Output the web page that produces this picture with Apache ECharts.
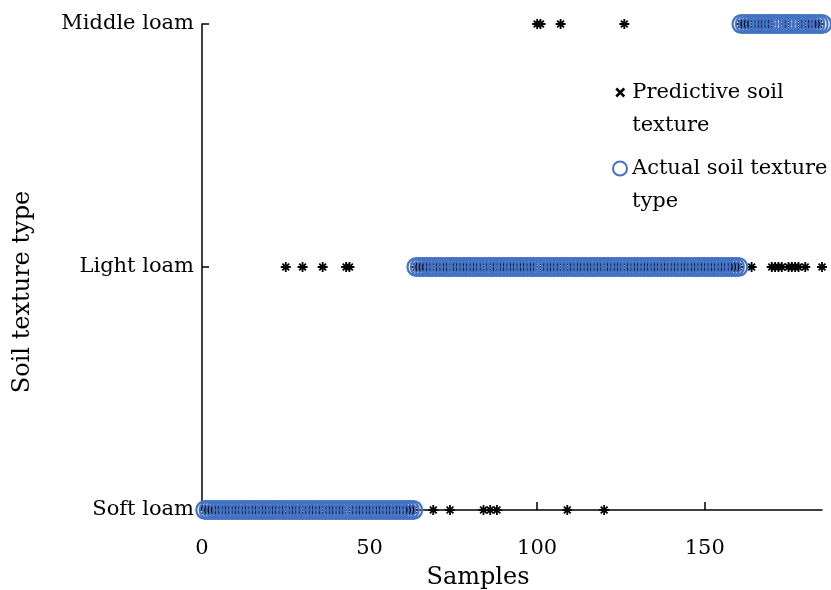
<!DOCTYPE html>
<html>
<head>
<meta charset="utf-8">
<script src="https://cdn.jsdelivr.net/npm/echarts@6/dist/echarts.min.js"></script>
<style>
  html, body { margin: 0; padding: 0; background: #fff; }
  #chart { width: 831px; height: 590px; }
</style>
</head>
<body>
<div id="chart"></div>
<script>
const classNames = ['', 'Soft loam', 'Light loam', 'Middle loam']
const xTicks = [0, 50, 100, 150]

// runs of samples in the actual data: [firstSample, lastSample, class]
const actualRuns = [
  [1, 63, 1],
  [64, 160, 2],
  [161, 185, 3]
]

// samples where the prediction differs from the actual class: [sample, predictedClass]
const predictedErrors = [
  [25, 2], [30, 2], [36, 2], [43, 2], [44, 2],
  [69, 1], [74, 1], [84, 1], [86, 1], [88, 1], [109, 1], [120, 1],
  [100, 3], [101, 3], [107, 3], [126, 3],
  [164, 2], [170, 2], [171, 2], [172, 2], [173, 2], [175, 2], [176, 2],
  [177, 2], [178, 2], [180, 2], [185, 2]
]

const actual = []
actualRuns.forEach(([a, b, c]) => {
  for (let s = a; s <= b; s++) actual.push([s, c])
})
const errMap = new Map(predictedErrors)
const predicted = actual.map(([s, c]) => [s, errMap.has(s) ? errMap.get(s) : c])

const FONT = 'DejaVu Serif'
const STAR = 'path://M0,5L10,5M5,0L5,10M1.6,1.6L8.4,8.4M8.4,1.6L1.6,8.4'
const CROSS = 'path://M0,0L10,10M10,0L0,10'
const BLUE = '#4472c4'

const legendText = { fontFamily: FONT, fontSize: 21, color: '#000', lineHeight: 33 }
const legendBase = {
  orient: 'vertical',
  left: 612,
  padding: 0,
  itemWidth: 14,
  itemHeight: 14,
  itemGap: 0,
  textStyle: legendText
}

const chart = echarts.init(document.getElementById('chart'))
chart.setOption({
  animation: false,
  textStyle: { fontFamily: FONT },
  grid: { left: 202, right: 9, top: 24, bottom: 80, outerBoundsMode: 'none', containLabel: false },
  legend: [
    Object.assign({}, legendBase, {
      top: 43,
      data: [{
        name: 'Predictive soil texture',
        icon: CROSS,
        itemStyle: { color: 'rgba(0,0,0,0)', borderColor: '#000', borderWidth: 2.5 }
      }],
      itemWidth: 8,
      itemHeight: 8,
      itemGap: 0,
      left: 615,
      formatter: () => ' \nPredictive soil\ntexture',
      textStyle: Object.assign({}, legendText, { padding: [0, 0, 0, 3] })
    }),
    Object.assign({}, legendBase, {
      top: 119,
      data: [{
        name: 'Actual soil texture type',
        icon: 'circle',
        itemStyle: { color: 'rgba(0,0,0,0)', borderColor: BLUE, borderWidth: 2 }
      }],
      formatter: () => ' \nActual soil texture\ntype'
    })
  ],
  xAxis: {
    type: 'value',
    min: 0,
    max: 185,
    interval: 50,
    name: 'Samples',
    nameLocation: 'middle',
    nameGap: 56,
    nameTextStyle: { fontFamily: FONT, fontSize: 24, color: '#000', padding: [0, 68, 0, 0] },
    axisLine: { lineStyle: { color: '#000', width: 1.5 } },
    axisTick: { inside: true, length: 8, lineStyle: { color: '#000', width: 1.5 } },
    axisLabel: {
      color: '#000', fontSize: 21, fontFamily: FONT, margin: 28,
      showMaxLabel: false,
      formatter: v => xTicks.includes(v) ? String(v) : ''
    },
    splitLine: { show: false }
  },
  yAxis: {
    type: 'value',
    min: 1,
    max: 3,
    interval: 1,
    name: 'Soil texture type',
    nameLocation: 'middle',
    nameGap: 167,
    nameTextStyle: { fontFamily: FONT, fontSize: 24, color: '#000', padding: [0, 50, 0, 0] },
    axisLine: { show: true, lineStyle: { color: '#000', width: 1.5 } },
    axisTick: { show: true, inside: true, length: 7, lineStyle: { color: '#000', width: 1.5 } },
    axisLabel: {
      color: '#000', fontSize: 21, fontFamily: FONT, margin: 8,
      formatter: v => classNames[v] || ''
    },
    splitLine: { show: false }
  },
  series: [
    {
      name: 'Predictive soil texture',
      type: 'scatter',
      data: predicted,
      symbol: STAR,
      symbolSize: 10,
      clip: false,
      itemStyle: { color: 'rgba(0,0,0,0)', borderColor: '#000', borderWidth: 1.8, opacity: 1 },
      z: 2
    },
    {
      name: 'Actual soil texture type',
      type: 'scatter',
      data: actual,
      symbol: 'circle',
      symbolSize: 18,
      clip: false,
      itemStyle: { color: 'rgba(0,0,0,0)', borderColor: BLUE, borderWidth: 2.2, opacity: 1 },
      z: 3
    }
  ]
})
</script>
</body>
</html>
